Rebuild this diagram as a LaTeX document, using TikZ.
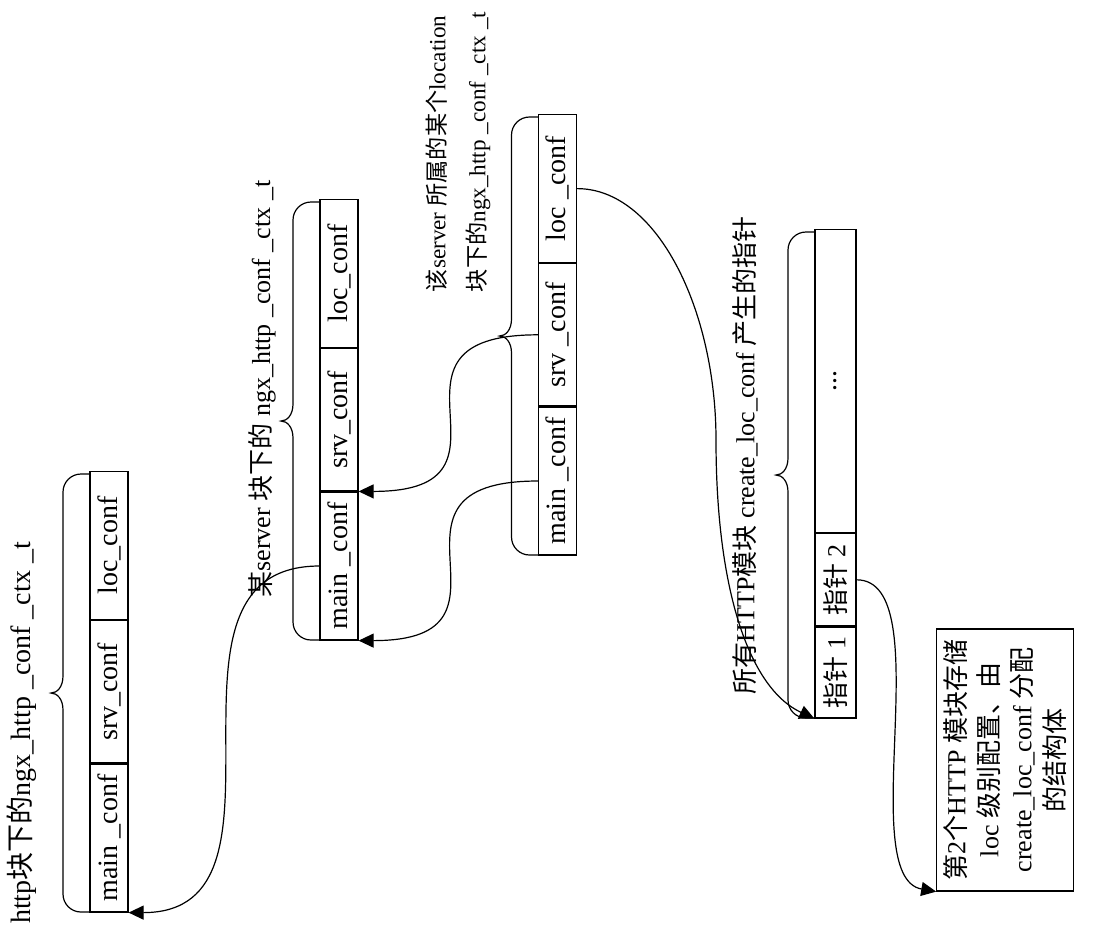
\documentclass[tikz,border=0pt]{standalone}
\usepackage{fontspec}
\setmainfont{Liberation Serif}
\newfontfamily\cjk{Noto Sans CJK SC}
\usetikzlibrary{arrows.meta,positioning}

\begin{document}
\begin{tikzpicture}[
    x=0.5pt, y=0.5pt, semithick,
    every node/.style={font=\fontsize{13pt}{16.5pt}\selectfont},
    cell/.style={draw, rotate=90, inner sep=0pt, minimum height=19pt, font=\fontsize{14pt}{16.5pt}\selectfont},
    tag/.style={rotate=90, inner sep=0pt},
    link/.style={-{Triangle[length=7.5pt,width=7pt]}, semithick}
]
\useasboundingbox (0,0) rectangle (1097,-934);

% http block
\node[cell, minimum width=74pt] (main1) at (109,-838) {main \_conf};
\node[cell, minimum width=71pt, right=0pt of main1] (srv1) {srv\_conf};
\node[cell, minimum width=74pt, right=0pt of srv1] (loc1) {loc\_conf};
% server block
\node[cell, minimum width=74pt] (main2) at (339,-566) {main \_conf};
\node[cell, minimum width=71pt, right=0pt of main2] (srv2) {srv\_conf};
\node[cell, minimum width=74pt, right=0pt of srv2] (loc2) {loc\_conf};
% location block
\node[cell, minimum width=74pt] (main3) at (557.5,-481) {main \_conf};
\node[cell, minimum width=71pt, right=0pt of main3] (srv3) {srv \_conf};
\node[cell, minimum width=74pt, right=0pt of srv3] (loc3) {loc \_conf};
% loc_conf pointers
\node[cell, font=\fontsize{13pt}{16.5pt}\selectfont, minimum width=45.5pt, minimum height=20.5pt] (p1) at (835.5,-672.5) {{\cjk 指针} 1};
\node[cell, font=\fontsize{13pt}{16.5pt}\selectfont, minimum width=46pt, minimum height=20.5pt, right=0pt of p1] (p2) {{\cjk 指针} 2};
\node[cell, minimum width=151.5pt, minimum height=20.5pt, right=0pt of p2] (dots) {...};

% braces
\foreach \X/\T/\B in {90/474/912, 320/202/640, 538.5/117/555, 815/232/718}{
  \pgfmathsetmacro\M{(\T+\B)/2}
  \draw (\X,-\T) -- (\X-9,-\T) arc[start angle=90, end angle=180, radius=9pt]
    -- (\X-27,-\M+17) .. controls (\X-27,-\M+6) and (\X-33,-\M) .. (\X-39,-\M)
    .. controls (\X-33,-\M) and (\X-27,-\M-6) .. (\X-27,-\M-17)
    -- (\X-27,-\B+18) arc[start angle=180, end angle=270, radius=9pt] -- (\X,-\B);
}

% labels
\node[tag, font=\fontsize{14pt}{16.5pt}\selectfont] (httplbl) at (22,-733) {http{\cjk 块下的}ngx\_http \_conf \_ctx \_t};
\node[tag] (srvlbl) at (262,-389) {{\cjk 某}server {\cjk 块下的} ngx\_http \_conf \_ctx \_t};
\node[tag, align=left, font=\fontsize{11.6pt}{20pt}\selectfont] (loclbl) at (458,-152)
  {{\cjk 该}server {\cjk 所属的某个}location\\{\cjk 块下的}ngx\_http \_conf \_ctx \_t};
\node[tag] (ptrlbl) at (745,-455) {{\cjk 所有}HTTP{\cjk 模块} create\_loc\_conf {\cjk 产生的指针}};
\node[draw, rotate=90, minimum width=131pt, minimum height=65pt, align=center] (conf2) at (1005,-760)
  {{\cjk 第}2{\cjk 个}HTTP {\cjk 模块存储}\\loc {\cjk 级别配置、由}\\create\_loc\_conf {\cjk 分配}\\{\cjk 的结构体}};

% pointers
\draw[link] (main2.north) to[out=180, in=0, distance=92pt] (main1.south west);
\draw[link] (srv3.north) to[out=180, in=0, distance=90pt] (main2.south east);
\draw[link] (main3.north) to[out=180, in=0, distance=90pt] (main2.south west);
\coordinate (bend) at (716,-440);
\draw[link] (loc3.south) to[out=0, in=90, out distance=40pt, in distance=65pt] (bend)
  to[out=-90, in=155, out distance=75pt, in distance=36pt] (p1.north west);
\draw[link] (p2.south) to[out=0, in=170, distance=42pt] (conf2.north west);
\end{tikzpicture}
\end{document}
